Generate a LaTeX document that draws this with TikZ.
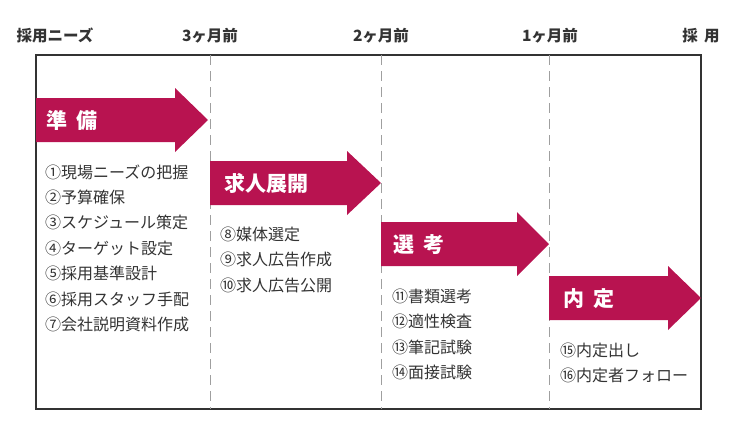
\documentclass[tikz,border=0pt]{standalone}
\usepackage{fontspec}
\setmainfont{Noto Sans CJK JP}
\definecolor{crim}{RGB}{184,19,80}
\definecolor{ink}{RGB}{51,51,51}
\begin{document}
\begin{tikzpicture}[x=1pt,y=-1pt,
  hdr/.style={font=\fontsize{15.5}{18}\selectfont\bfseries, text=ink, inner sep=0, anchor=base},
  lbl/.style={font=\fontsize{21}{24}\selectfont\bfseries, text=white, inner sep=0, anchor=base west},
  item/.style={font=\fontsize{16}{18}\selectfont, text=ink, inner sep=0, anchor=base west},
  framebox/.style={draw=ink, line width=1.2pt},
  divider/.style={draw=gray!75, line width=0.8pt, dash pattern=on 10pt off 6pt},
  arrowshape/.style={fill=crim, draw=none}]
\useasboundingbox (0,0) rectangle (740,440);
% frame
\draw[framebox] (36,55) rectangle (701,409);
% dividers
\coordinate (d1t) at (210,55); \coordinate (d1b) at (210,409);
\coordinate (d2t) at (381,55); \coordinate (d2b) at (381,409);
\coordinate (d3t) at (549,55); \coordinate (d3b) at (549,409);
\draw[divider] (d1t) -- (d1b);
\draw[divider] (d2t) -- (d2b);
\draw[divider] (d3t) -- (d3b);
% headers
\node[hdr] (h0) at (55,41) {採用ニーズ};
\node[hdr] (h1) at (210,41) {3ヶ月前};
\node[hdr] (h2) at (381,41) {2ヶ月前};
\node[hdr] (h3) at (550,41) {1ヶ月前};
\node[hdr] (h4) at (701,41) {採\hspace{0.4em}用};
% arrows
\fill[arrowshape] (36,98) -- (175,98) -- (175,88) -- (208,120) -- (175,152) -- (175,142) -- (36,142) -- cycle;
\fill[arrowshape] (210,161) -- (347,161) -- (347,151) -- (381,183) -- (347,215) -- (347,205) -- (210,205) -- cycle;
\fill[arrowshape] (381,222) -- (517,222) -- (517,212) -- (549,244) -- (517,276) -- (517,266) -- (381,266) -- cycle;
\fill[arrowshape] (549,276) -- (668,276) -- (668,266) -- (701,298) -- (668,330) -- (668,320) -- (549,320) -- cycle;
% arrow labels
\node[lbl] (a1) at (46,128) {準\hspace{0.43em}備};
\node[lbl] (a2) at (224,191) {求人展開};
\node[lbl] (a3) at (393,252) {選\hspace{0.43em}考};
\node[lbl] (a4) at (563,306) {内\hspace{0.43em}定};
% lists
\foreach \t [count=\i] in {①現場ニーズの把握,②予算確保,③スケジュール策定,④ターゲット設定,⑤採用基準設計,⑥採用スタッフ手配,⑦会社説明資料作成}
  \node[item] (pa\i) at (45,{178+(\i-1)*25.45}) {\t};
\foreach \t [count=\i] in {⑧媒体選定,⑨求人広告作成,⑩求人広告公開}
  \node[item] (pb\i) at (220,{240+(\i-1)*25.5}) {\t};
\foreach \t [count=\i] in {⑪書類選考,⑫適性検査,⑬筆記試験,⑭面接試験}
  \node[item] (pc\i) at (392,{302+(\i-1)*25.6}) {\t};
\foreach \t [count=\i] in {⑮内定出し,⑯内定者フォロー}
  \node[item] (pd\i) at (560,{356+(\i-1)*25.5}) {\t};
\end{tikzpicture}
\end{document}
